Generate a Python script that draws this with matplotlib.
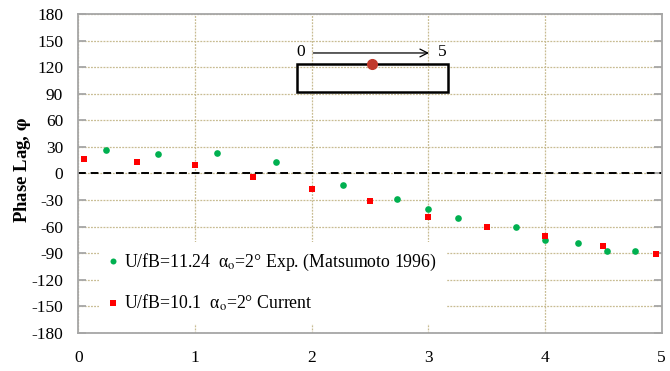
import matplotlib
matplotlib.use("Agg")
import matplotlib.pyplot as plt
from matplotlib.patches import Rectangle

plt.rcParams['font.family'] = ['Liberation Serif', 'DejaVu Serif']
plt.rcParams['mathtext.fontset'] = 'stix'
plt.rcParams['axes.unicode_minus'] = False

# Experimental phase lag (Matsumoto 1996)
exp_x = [0.24, 0.68, 1.19, 1.69, 2.27, 2.73, 3.00, 3.25, 3.75, 4.00, 4.28, 4.53, 4.77]
exp_phi = [27, 22.5, 23, 13, -13.5, -29, -39.5, -50, -60, -75, -78, -88, -88]

# Current computation
cur_x = [0.05, 0.5, 1.0, 1.5, 2.0, 2.5, 3.0, 3.5, 4.0, 4.5, 4.95]
cur_phi = [16, 13, 10, -4, -17, -30.5, -49, -60, -70, -82, -91]

exp_label = "U/fB=11.24  α$_\\mathrm{o}$=2° Exp. (Matsumoto 1996)"
cur_label = "U/fB=10.1  α$_\\mathrm{o}$=2° Current"

x_ticks = [0, 1, 2, 3, 4, 5]
y_ticks = list(range(-180, 181, 30))

fig = plt.figure(figsize=(6.70, 3.71), dpi=100)
ax = fig.add_axes([0.117, 0.1024, 0.8706, 0.8599])

grid_c = '#c8bc92'
ax.set_xlim(0, 5)
ax.set_ylim(-180, 180)
ax.set_xticks(x_ticks)
ax.set_yticks(y_ticks)
ax.grid(True, color=grid_c, linestyle=(0, (1.5, 1.0)), linewidth=0.9, zorder=0)
ax.set_axisbelow(True)

for s in ax.spines.values():
    s.set_color('#a6a6a6')
    s.set_linewidth(1.3)

ax.tick_params(axis='x', length=0, labelsize=12.5, pad=12)
ax.tick_params(axis='y', length=6, direction='in', right=True, left=True,
               color='#a6a6a6', width=1.3, labelsize=12.5, pad=11)

ax.axhline(0, color='black', linestyle=(0, (4, 2.5)), linewidth=1.4, zorder=2)

ax.plot(exp_x, exp_phi, 'o', color='#00b050', markersize=4.8, markeredgewidth=0,
        label=exp_label, zorder=4)
ax.plot(cur_x, cur_phi, 's', color='#ff0000', markersize=4.5, markeredgewidth=0,
        label=cur_label, zorder=4)

ax.set_ylabel(r"Phase Lag, $\boldsymbol{\varphi}$", fontsize=13.5, fontweight='bold')
ax.yaxis.set_label_coords(-0.078, 0.51)

leg = ax.legend(loc='lower left', bbox_to_anchor=(0.02, 0.0), frameon=True,
                fontsize=12.8, handlelength=0.4, handletextpad=0.4,
                labelspacing=1.1, borderpad=0.6, markerscale=0.9)
leg.get_frame().set_edgecolor('none')
leg.get_frame().set_facecolor('white')
leg.get_frame().set_alpha(1.0)
leg.get_frame().set_boxstyle('square', pad=0)

# Section sketch with span direction
ax.add_patch(Rectangle((1.87, 92), 1.30, 32, fill=False, edgecolor='black',
                       linewidth=1.8, zorder=5))
ax.plot([2.52], [124], 'o', color='#c0392b', markersize=7, zorder=6)
ax.annotate('', xy=(3.03, 136), xytext=(1.99, 136),
            arrowprops=dict(arrowstyle='->', color='black', lw=0.9,
                            mutation_scale=14), zorder=6)
ax.text(1.94, 137, '0', fontsize=12.5, ha='right', va='center', zorder=6)
ax.text(3.08, 137, '5', fontsize=12.5, ha='left', va='center', zorder=6)

fig.savefig('out.png', dpi=100)
